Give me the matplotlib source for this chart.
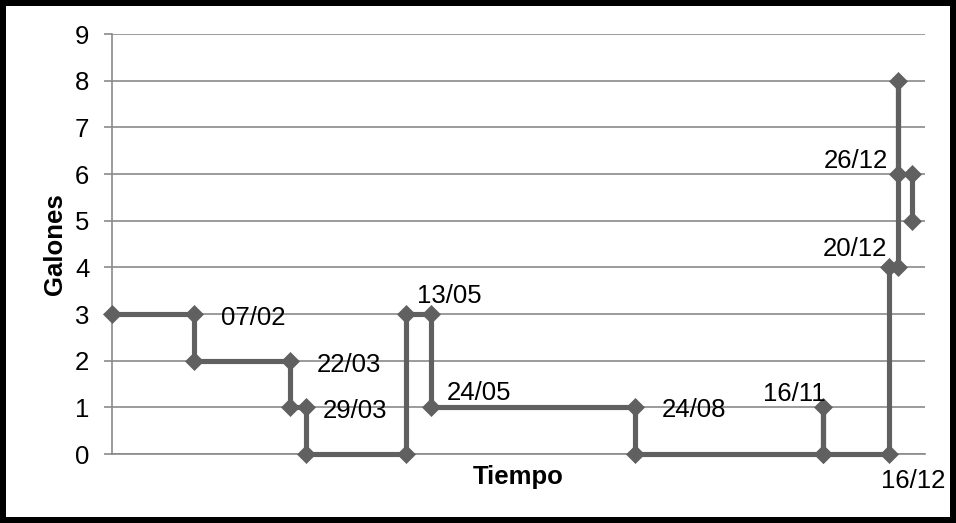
import datetime as dt
import matplotlib
matplotlib.use("Agg")
import matplotlib.pyplot as plt

plt.rcParams['font.family'] = ['Liberation Sans', 'DejaVu Sans']

# Fuel level over the year (step changes on each date)
fechas = ["2009-01-01", "2009-02-07", "2009-02-07", "2009-03-22", "2009-03-22",
          "2009-03-29", "2009-03-29", "2009-05-13", "2009-05-13", "2009-05-24",
          "2009-05-24", "2009-08-24", "2009-08-24", "2009-11-16", "2009-11-16",
          "2009-11-16", "2009-12-16", "2009-12-16", "2009-12-20", "2009-12-20",
          "2009-12-20", "2009-12-26", "2009-12-26"]
galones = [3, 3, 2, 2, 1, 1, 0, 0, 3, 3, 1, 1, 0, 0, 1, 0, 0, 4, 4, 8, 6, 6, 5]

# Labelled points: (text, date, gallons, offset in points, horizontal alignment)
etiquetas = [
    ("07/02", "2009-02-07", 3, (19, -8), "left"),
    ("22/03", "2009-03-22", 2, (19, -8), "left"),
    ("29/03", "2009-03-29", 1, (12, -7.5), "left"),
    ("13/05", "2009-05-13", 3, (8, 8), "left"),
    ("24/05", "2009-05-24", 1, (12, 5), "left"),
    ("24/08", "2009-08-24", 1, (19, -7), "left"),
    ("16/11", "2009-11-16", 1, (2, 4.5), "right"),
    ("16/12", "2009-12-16", 0, (-6, -24.5), "left"),
    ("20/12", "2009-12-20", 4, (-8, 8), "right"),
    ("26/12", "2009-12-26", 6, (-17, 4.5), "right"),
]

x = [dt.datetime.strptime(f, "%Y-%m-%d") for f in fechas]

fig = plt.figure(figsize=(9.56, 5.23), dpi=100, linewidth=7.5, edgecolor='black')
ax = fig.add_axes([112 / 956, 1 - 454 / 523, (925 - 112) / 956, (454 - 34) / 523])

grid_color = '#8a8a8a'
ax.plot(x, galones, color='#606060', linewidth=3.7, marker='D', markersize=9.5,
        markeredgewidth=0.5, zorder=3, clip_on=False)

for texto, fecha, valor, off, ha in etiquetas:
    ax.annotate(texto, (dt.datetime.strptime(fecha, "%Y-%m-%d"), valor),
                xytext=off, textcoords='offset points', ha=ha, va='baseline',
                fontsize=18.5, color='black', zorder=4)

ax.set_xlim(dt.datetime(2009, 1, 1), dt.datetime(2010, 1, 1))
ax.set_ylim(0, 9)
ax.set_yticks(range(10))
ax.set_xticks([])
ax.yaxis.grid(True, color=grid_color, linewidth=1.2)
ax.set_axisbelow(True)

for s in ['top', 'right']:
    ax.spines[s].set_visible(False)
for s in ['left', 'bottom']:
    ax.spines[s].set_color(grid_color)
    ax.spines[s].set_linewidth(1.2)
ax.tick_params(axis='y', length=5.8, width=1.2, color=grid_color, pad=10.5,
               labelsize=18.5)

ax.set_ylabel('Galones', fontsize=18.5, fontweight='bold', labelpad=6)
ax.set_xlabel('Tiempo', fontsize=18.5, fontweight='bold', labelpad=8)

fig.savefig('out.png', dpi=100)
